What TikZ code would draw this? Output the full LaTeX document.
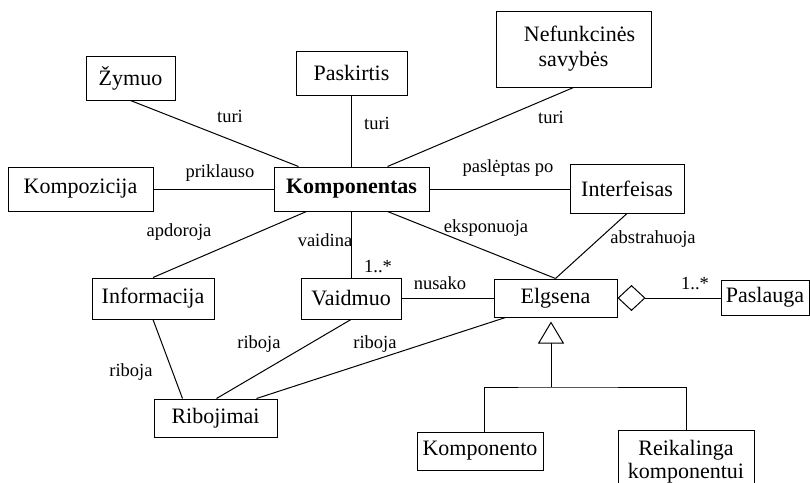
\documentclass[tikz,border=0pt]{standalone}
\usepackage{fontspec}
\setmainfont{Liberation Serif}
\usetikzlibrary{arrows.meta,calc}
\begin{document}
\begin{tikzpicture}[x=1pt,y=-1pt,
  box/.style={draw,line width=1pt,inner sep=0pt,font=\fontsize{22}{25}\selectfont,align=center},
  lbl/.style={inner sep=0pt,font=\fontsize{18.5}{21}\selectfont},
  conn/.style={line width=1pt}]
\clip (0,0) rectangle (810,482);
\fill[white] (0,0) rectangle (810,482);
% boxes
\node[box,minimum width=89pt,minimum height=44pt] (zym) at (130.5,78) {Žymuo};
\node[box,minimum width=111pt,minimum height=44pt] (pask) at (351.5,73) {Paskirtis};
\node[box,minimum width=155pt,minimum height=76pt] (nef) at (573.5,49) {\hspace*{12pt}Nefunkcinės\\savybės};
\node[box,minimum width=145pt,minimum height=44pt] (kpz) at (80.5,189) {Kompozicija};
\node[box,minimum width=155pt,minimum height=44pt] (komp) at (351.5,189) {\textbf{Komponentas}};
\node[box,minimum width=114pt,minimum height=49pt] (intf) at (627,188.5) {Interfeisas};
\node[box,minimum width=122pt,minimum height=41pt] (info) at (153,298.5) {Informacija};
\node[box,minimum width=100pt,minimum height=41pt] (vaid) at (351,298.5) {Vaidmuo};
\node[box,minimum width=123pt,minimum height=38pt] (rib) at (215.5,418) {Ribojimai};
\node[box,minimum width=123pt,minimum height=38pt] (elg) at (555.5,298) {Elgsena};
\node[box,minimum width=88pt,minimum height=35pt] (pasl) at (765,297.5) {Paslauga};
\node[box,minimum width=126pt,minimum height=38pt] (kmpn) at (480,451) {Komponento};
\node[box,minimum width=136pt,minimum height=64pt,font=\fontsize{22}{23}\selectfont] (reik) at (686,462) {Reikalinga\\komponentui};
% connectors
\draw[conn] (zym.south) -- ($(komp.north west)+(25,0)$);
\draw[conn] (pask.south) -- (komp.north);
\draw[conn] (nef.south) -- ($(komp.north east)+(-42,0)$);
\draw[conn] (kpz.east) -- (komp.west);
\draw[conn] (komp.east) -- (komp.east -| intf.west);
\draw[conn] ($(komp.south west)+(33,0)$) -- (info.north);
\draw[conn] (komp.south) -- (komp.south |- vaid.north);
\draw[conn] ($(komp.south east)+(-42,0)$) -- (elg.north);
\draw[conn] (intf.south) -- (elg.north);
\draw[conn] (vaid.east) -- (vaid.east -| elg.west);
\draw[conn] (info.south) -- ($(rib.north west)+(29,0)$);
\draw[conn] (vaid.south) -- ($(rib.north west)+(63,0)$);
\draw[conn] ($(elg.south west)+(12,0)$) -- ($(rib.north east)+(-21,0)$);
\draw[conn,{Diamond[open,length=28pt,width=26pt,line width=1pt]}-] (elg.east) -- (elg.east -| pasl.west);
\coordinate (gj) at (551,387);
\draw[conn,-{Triangle[open,length=22pt,width=26pt,line width=1pt]}] (gj) -- ($(elg.south)+(-4.5,4)$);
\draw[conn] ($(kmpn.north)+(4,0)$) |- (gj) -| (reik.north);
% labels
\node[lbl] (l1) at (230,116) {turi};
\node[lbl] (l2) at (377,123) {turi};
\node[lbl] (l3) at (551,117) {turi};
\node[lbl] (l4) at (220,173) {priklauso};
\node[lbl] (l5) at (508,168) {paslėptas po};
\node[lbl] (l6) at (179,232) {apdoroja};
\node[lbl] (l7) at (325,240) {vaidina};
\node[lbl] (l8) at (486,228) {eksponuoja};
\node[lbl] (l9) at (653,239) {abstrahuoja};
\node[lbl] (l10) at (378,267) {1..*};
\node[lbl] (l11) at (440,283) {nusako};
\node[lbl] (l12) at (695,284) {1..*};
\node[lbl] (l13) at (131,372) {riboja};
\node[lbl] (l14) at (259,344) {riboja};
\node[lbl] (l15) at (375,344) {riboja};
\end{tikzpicture}
\end{document}
